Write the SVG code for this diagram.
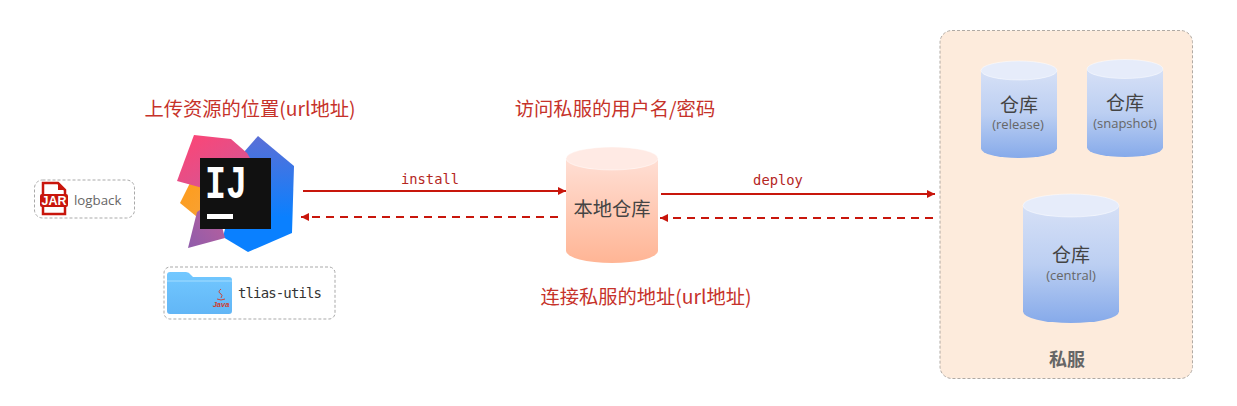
<svg xmlns="http://www.w3.org/2000/svg" width="1237" height="406" viewBox="0 0 1237 406">
<style>
.title{font-size:19.300px;fill:#c6322a;text-anchor:middle;font-family:"Noto Sans CJK SC","Open Sans",sans-serif}
.mono{font-family:"DejaVu Sans Mono","Liberation Mono",monospace}
.dash{fill:none;stroke:#a9a9a9;stroke-width:1;stroke-dasharray:3 2}
.store{font-size:19px;fill:#444;text-anchor:middle;font-family:"Noto Sans CJK SC",sans-serif}
.sub{font-size:13px;fill:#666;text-anchor:middle;font-family:"Open Sans",sans-serif}
.solid{fill:none;stroke:#c8160c;stroke-width:2}
.dashed{fill:none;stroke:#c8160c;stroke-width:2;stroke-dasharray:8 6}
.lbl{font-size:13.800px;fill:#b5261e;text-anchor:middle}
.rim{stroke:#fff;stroke-opacity:.45;stroke-width:1}
</style>
<defs>
<linearGradient id="blue" x1="0" y1="0" x2="0" y2="1"><stop offset="0" stop-color="#d6e0f6"/><stop offset=".5" stop-color="#bccff2"/><stop offset="1" stop-color="#86aaea"/></linearGradient>
<linearGradient id="peach" x1="0" y1="0" x2="0" y2="1"><stop offset="0" stop-color="#ffdfd5"/><stop offset="1" stop-color="#ffb595"/></linearGradient>
<linearGradient id="ijred" x1="0" y1="0" x2="1" y2="1"><stop offset="0" stop-color="#ff4473"/><stop offset="1" stop-color="#c95a9e"/></linearGradient>
<linearGradient id="ijblue" x1="0" y1="0" x2="0" y2="1"><stop offset="0" stop-color="#5b6fd6"/><stop offset=".7" stop-color="#0a80ff"/><stop offset="1" stop-color="#0a80ff"/></linearGradient>
<linearGradient id="ijorange" x1="0" y1="0" x2="1" y2="1"><stop offset="0" stop-color="#ff9c1a"/><stop offset="1" stop-color="#f5a33c"/></linearGradient>
<linearGradient id="ijpurple" x1="0" y1="1" x2="1" y2="0"><stop offset="0" stop-color="#8f5cab"/><stop offset="1" stop-color="#c0609a"/></linearGradient>
<linearGradient id="folder" x1="0" y1="0" x2="0" y2="1"><stop offset="0" stop-color="#72c8ff"/><stop offset="1" stop-color="#62b6f6"/></linearGradient>
<marker id="ah" markerWidth="10" markerHeight="8" refX="8" refY="4" orient="auto-start-reverse" markerUnits="userSpaceOnUse"><path d="M0 0L8 4L0 8Z" fill="#c8160c"/></marker>
</defs>
<rect width="1237" height="406" fill="#fff"/>

<g id="title-upload"><text class="title" x="250" y="116">上传资源的位置(url地址)</text></g>
<g id="title-credentials"><text class="title" x="615" y="116">访问私服的用户名/密码</text></g>
<g id="title-connect"><text class="title" x="646" y="304">连接私服的地址(url地址)</text></g>

<g id="logback">
<rect class="dash" x="34.500" y="180" width="100" height="38" rx="8"/>
<path d="M43 183H58L65 190V214H43Z" fill="#fff" stroke="#c8160c" stroke-width="2.500"/>
<path d="M58 183V190H65Z" fill="#c8160c"/>
<rect x="40" y="194" width="28" height="13" rx="2" fill="#c8160c"/>
<text x="54" y="205" font-family="Liberation Sans,sans-serif" font-weight="700" font-size="12.500" fill="#fff" text-anchor="middle">JAR</text>
<text x="74" y="205" font-family="Open Sans,sans-serif" font-size="13.300" fill="#666">logback</text>
</g>

<g id="intellij">
<polygon points="190,183 180,203 202,221 215,190" fill="url(#ijorange)"/>
<polygon points="258,136 294,166 292,233 248,252 223,237 244,152" fill="url(#ijblue)"/>
<polygon points="197,212 188,248 225,238 215,200" fill="url(#ijpurple)"/>
<polygon points="194,135 231,139 247,153 262,178 210,190 177,181" fill="url(#ijred)"/>
<rect x="200" y="158" width="71" height="71" fill="#111"/>
<text x="205" y="198" font-family="Liberation Mono,monospace" font-weight="700" font-size="47" fill="#fff" textLength="42" lengthAdjust="spacingAndGlyphs">IJ</text>
<rect x="207" y="214" width="26" height="5" fill="#fff"/>
</g>

<g id="tlias-utils">
<rect class="dash" x="164" y="267" width="171" height="52" rx="6"/>
<path d="M167 275q0-3 3-3h16q3 0 5 3l2 2h36q3 0 3 3v31q0 3-3 3h-59q-3 0-3-3Z" fill="url(#folder)"/>
<path d="M167 281h65" stroke="#a3dcff" stroke-width="1"/>
<text x="221" y="307" font-family="Liberation Sans,sans-serif" font-style="italic" font-weight="700" font-size="7.500" fill="#d03b2f" text-anchor="middle">Java</text>
<path d="M221 289q-4 3 0 5q2 1 0 4M217 299q4 2 8 0" fill="none" stroke="#c8453a" stroke-width="1"/>
<text class="mono" x="238" y="298" font-size="14" fill="#333" textLength="84">tlias-utils</text>
</g>

<g id="local-repo">
<path d="M566 158V251A46 12 0 0 0 658 251V158Z" fill="url(#peach)"/>
<ellipse class="rim" cx="612" cy="158.500" rx="46" ry="11.500" fill="#ffeae4"/>
<text class="store" x="612" y="216" style="font-size:19.300px">本地仓库</text>
</g>

<g id="private-server">
<rect x="940" y="30.500" width="252.500" height="348" rx="12" fill="#fdebdc" stroke="#b0aaa4" stroke-width="1" stroke-dasharray="3 2"/>
<text x="1067" y="366" font-family="Noto Sans CJK SC,sans-serif" font-weight="700" font-size="18" fill="#666" text-anchor="middle">私服</text>
</g>

<g id="repo-release">
<path d="M981 70.500V148.500A38 9.500 0 0 0 1057 148.500V70.500Z" fill="url(#blue)"/>
<ellipse class="rim" cx="1019" cy="70.500" rx="38" ry="9.500" fill="#e6ecfa"/>
<text class="store" x="1019" y="112">仓库</text>
<text class="sub" x="1018" y="129">(release)</text>
</g>

<g id="repo-snapshot">
<path d="M1087 69V147.500A38 9.500 0 0 0 1163 147.500V69Z" fill="url(#blue)"/>
<ellipse class="rim" cx="1125" cy="69" rx="38" ry="9.500" fill="#e6ecfa"/>
<text class="store" x="1125" y="110">仓库</text>
<text class="sub" x="1125" y="128">(snapshot)</text>
</g>

<g id="repo-central">
<path d="M1023 205.500V311.500A48 11.500 0 0 0 1119 311.500V205.500Z" fill="url(#blue)"/>
<ellipse class="rim" cx="1071" cy="205.500" rx="48" ry="11.500" fill="#e6ecfa"/>
<text class="store" x="1071" y="262">仓库</text>
<text class="sub" x="1071" y="280">(central)</text>
</g>

<g id="connectors">
<line class="solid" x1="303" y1="191" x2="566" y2="191" marker-end="url(#ah)"/>
<line class="dashed" x1="558" y1="217" x2="301" y2="217" marker-end="url(#ah)"/>
<line class="solid" x1="661" y1="194" x2="935" y2="194" marker-end="url(#ah)"/>
<line class="dashed" x1="933" y1="218" x2="660" y2="218" marker-end="url(#ah)"/>
<text class="mono lbl" x="430" y="184">install</text>
<text class="mono lbl" x="778" y="185">deploy</text>
</g>
</svg>
